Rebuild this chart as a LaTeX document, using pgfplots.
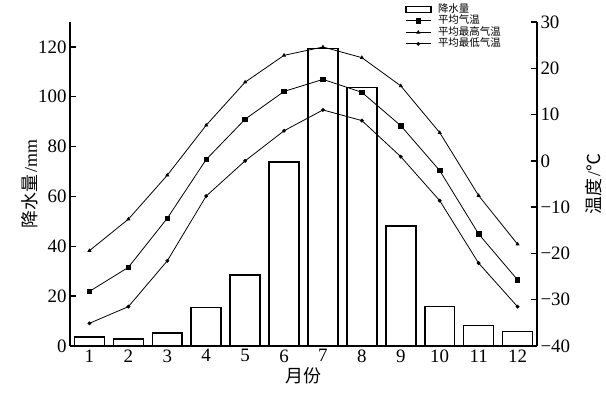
\documentclass[border=0pt]{standalone}
\usepackage{pgfplots}
\pgfplotsset{compat=1.18}
\usepackage{fontspec}
\setmainfont{Liberation Serif}
\newfontfamily\cjk{Noto Sans CJK SC}

\pgfplotstableread{
m  p     tmean  tmax   tmin
1  3.5  -28.2  -19.4  -35.1
2  2.7  -23.0  -12.6  -31.5
3  5.3  -12.4   -3.1  -21.6
4  15.5   0.3    7.7   -7.6
5  28.4   9.0   17.0    0.0
6  73.9  15.0   22.8    6.5
7  119.3 17.6   24.6   11.0
8  103.7 14.8   22.3    8.7
9  48.2   7.6   16.2    0.9
10 15.8  -2.1    6.1   -8.6
11  8.3 -15.8   -7.5  -22.1
12  5.8 -25.7  -18.0  -31.5
}\datatable

\begin{document}
\begin{tikzpicture}
\useasboundingbox (0bp,0bp) rectangle (606bp,399bp);
\begin{axis}[
  at={(70bp,53bp)}, anchor=south west,
  width=467bp, height=324bp, scale only axis,
  xmin=0.5, xmax=12.5, ymin=0, ymax=130,
  axis x line*=bottom, axis y line*=left,
  axis line style={line width=1.6bp, -},
  xtick={1,...,12}, x tick style={draw=none},
  ytick={0,20,...,120},
  tick align=inside, y tick style={line width=1.4bp, black}, major tick length=6bp,
  tick label style={font=\fontsize{19}{19}\selectfont},
  /pgf/number format/assume math mode=true,
  xlabel={\cjk 月份}, ylabel={{\cjk 降水量}\,/mm},
  label style={font=\fontsize{18}{18}\selectfont},
  xlabel style={yshift=2bp},
  ylabel shift=-7bp,
]
\addplot[ybar, bar width=0.77, draw=black, line width=1.6bp, fill=white] table[x=m, y=p] {\datatable};
\end{axis}
\begin{axis}[
  at={(70bp,53bp)}, anchor=south west,
  width=467bp, height=324bp, scale only axis,
  xmin=0.5, xmax=12.5, ymin=-40, ymax=30,
  axis x line=none, axis y line*=right,
  axis line style={line width=1.6bp, -},
  ytick={-40,-30,...,30}, yticklabels={−40,−30,−20,−10,0,10,20,30},
  tick align=inside, y tick style={line width=1.4bp, black}, major tick length=6bp,
  tick label style={font=\fontsize{19}{19}\selectfont},
  ylabel={{\cjk 温度}\,/{\cjk ℃}},
  label style={font=\fontsize{18}{18}\selectfont},
  ylabel shift=8bp,
  legend style={at={(0.717,1.055)}, anchor=north west, draw=none, fill=none,
    font=\cjk\fontsize{10.5}{10.5}\selectfont, inner sep=0pt, row sep=1.5bp,
    nodes={inner sep=0.5bp, text height=7.5bp, text depth=1.5bp},
    /tikz/every odd column/.append style={column sep=6bp}},
  legend cell align=left,
  legend image code/.code={\draw[mark repeat=2,mark phase=2,#1] plot coordinates {(0bp,0bp) (12.5bp,0bp) (25bp,0bp)};},
]
\addlegendimage{legend image code/.code={\draw[line width=1.5bp] (0bp,-3bp) rectangle (25bp,3bp);}}
\addlegendentry{降水量}
\addplot[black, line width=0.8bp, mark=square*, mark size=2.3bp] table[x=m, y=tmean] {\datatable};
\addlegendentry{平均气温}
\addplot[black, line width=0.8bp, mark=triangle*, mark size=1.6bp] table[x=m, y=tmax] {\datatable};
\addlegendentry{平均最高气温}
\addplot[black, line width=0.8bp, mark=*, mark size=1.5bp] table[x=m, y=tmin] {\datatable};
\addlegendentry{平均最低气温}
\end{axis}
\end{tikzpicture}
\end{document}
